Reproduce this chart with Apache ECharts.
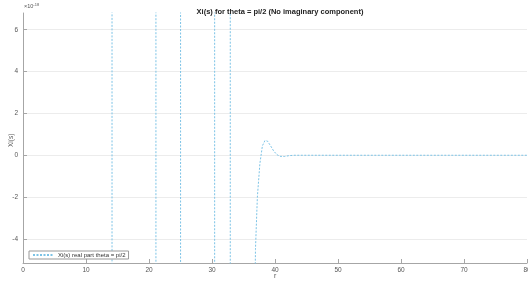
<!DOCTYPE html>
<html lang="en">
<head>
    <meta charset="UTF-8">
    <title>Xi(s) for theta = pi/2</title>
    <script src="https://cdn.jsdelivr.net/npm/echarts@6.0.0/dist/echarts.min.js"></script>
    <style>
        html, body { margin: 0; padding: 0; background: #fff; }
    </style>
</head>
<body>
    <div id="main" style="width: 528px;height:282px;"></div>

    <script>
        // r values and real part of Xi(s), in units of 1e-18
        // (huge values shoot off the plot between zeros, so only the crossings show)
        var rValues = [0, 14.12, 14.14, 21.09, 21.11, 25.00, 25.02, 30.41, 30.43, 32.85, 32.95,
                       36.3, 36.6, 36.9, 37.2, 37.6, 38.0, 38.4, 38.8, 39.3, 39.8, 40.3, 40.8, 41.5, 42.2, 43, 50, 60, 70, 80];
        var xiValues = [800, 800, -800, -800, 800, 800, -800, -800, 800, 800, -800,
                        -40, -12, -4.5, -2, -0.4, 0.45, 0.7, 0.68, 0.45, 0.2, 0.03, -0.05, -0.06, -0.02, 0, 0, 0, 0, 0];
        var yTicks = [-4, -2, 0, 2, 4, 6];

        var lineColor = '#7cc3e6';
        var axisColor = '#a6a6a6';
        var labelColor = '#555';

        var myChart = echarts.init(document.getElementById('main'));
        var option = {
            animation: false,
            title: {
                text: 'Xi(s) for theta = pi/2 (No imaginary component)',
                left: 275,
                textAlign: 'center',
                top: 3,
                textStyle: { fontSize: 7.5, fontWeight: 'bold', color: '#222', fontFamily: 'Liberation Sans' }
            },
            grid: { left: 23, right: 1, top: 13, bottom: 19, outerBoundsMode: 'none', containLabel: false },
            legend: {
                left: 29,
                bottom: 23,
                itemWidth: 20,
                itemHeight: 6,
                itemGap: 2,
                padding: [1, 3],
                borderColor: '#999',
                borderWidth: 1,
                borderRadius: 0,
                backgroundColor: '#fff',
                itemStyle: { opacity: 0 },
                textStyle: { fontSize: 6, color: '#333', fontFamily: 'Liberation Sans' },
                data: ['Xi(s) real part theta = pi/2']
            },
            graphic: [{
                type: 'text',
                left: 24,
                top: 3,
                style: {
                    text: '{a|×10}{b|-18}',
                    rich: {
                        a: { fontSize: 5.5, fill: labelColor, fontFamily: 'Liberation Sans', padding: [3, 0, 0, 0] },
                        b: { fontSize: 4, fill: labelColor, fontFamily: 'Liberation Sans' }
                    }
                }
            }, {
                type: 'text',
                left: 274,
                top: 273,
                style: { text: 'r', fontSize: 7, fill: labelColor, fontFamily: 'Liberation Sans' }
            }, {
                type: 'text',
                x: 8,
                y: 147,
                rotation: Math.PI / 2,
                style: { text: 'Xi(s)', fontSize: 6.5, fill: labelColor, fontFamily: 'Liberation Sans' }
            }],
            xAxis: {
                type: 'value',
                min: 0,
                max: 80,
                interval: 10,
                axisLine: { onZero: false, lineStyle: { color: axisColor } },
                axisTick: { inside: true, length: 4, lineStyle: { color: axisColor } },
                axisLabel: { fontSize: 6.5, color: labelColor, margin: 4, fontFamily: 'Liberation Sans' },
                splitLine: { show: false }
            },
            yAxis: {
                type: 'value',
                min: -5.15,
                max: 6.8,
                axisLine: { show: true, onZero: false, lineStyle: { color: axisColor } },
                axisTick: { show: true, inside: true, length: 4, customValues: yTicks, lineStyle: { color: axisColor } },
                axisLabel: { fontSize: 6.5, color: labelColor, margin: 5, customValues: yTicks, fontFamily: 'Liberation Sans' },
                splitLine: { show: true, lineStyle: { color: '#ececec', width: 1 } }
            },
            series: [{
                name: 'Xi(s) real part theta = pi/2',
                type: 'line',
                showSymbol: false,
                symbol: 'none',
                clip: true,
                data: rValues.map(function (r, i) { return [r, xiValues[i]]; }),
                lineStyle: { color: lineColor, width: 1, type: [2, 1.5] },
                itemStyle: { color: lineColor }
            }]
        };

        myChart.setOption(option);
    </script>
</body>
</html>
